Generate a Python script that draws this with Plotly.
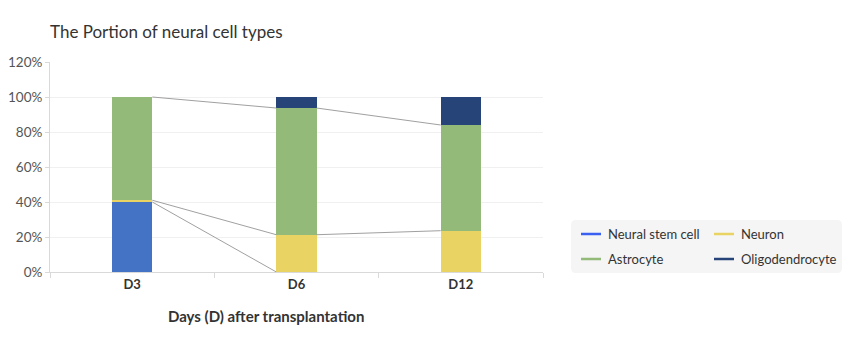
import plotly.graph_objects as go
import numpy as np

categories = ["D3", "D6", "D12"]
series_names = ["Neural stem cell", "Neuron", "Astrocyte", "Oligodendrocyte"]
nsc = [40, 0, 0]
neuron = [1, 21.3, 23.6]
astrocyte = [59, 72.4, 60.4]
oligo = [0, 6.3, 16.0]
y_ticks = [0, 20, 40, 60, 80, 100, 120]
y_tick_labels = ["0%", "20%", "40%", "60%", "80%", "100%", "120%"]

bar_colors = ["#4472c4", "#e9d463", "#93ba79", "#264478"]
legend_colors = ["#3a60f2", "#e9d463", "#93ba79", "#264478"]
FONT = "Lato"
BAR_W = 0.245

values = [nsc, neuron, astrocyte, oligo]

fig = go.Figure()
for name, vals, col in zip(series_names, values, bar_colors):
    fig.add_trace(go.Bar(x=categories, y=vals, name=name, marker=dict(color=col, line=dict(width=0)),
                         width=BAR_W, showlegend=False))

# series lines connecting stacked tops (top series and all-zero segments are not drawn)
arr = np.array(values, dtype=float)
cum = np.cumsum(arr, axis=0)
for s in range(len(series_names) - 1):
    for i in range(len(categories) - 1):
        if arr[s, i] == 0 and arr[s, i + 1] == 0:
            continue
        fig.add_trace(go.Scatter(x=[i + BAR_W / 2, i + 1 - BAR_W / 2], y=[cum[s, i], cum[s, i + 1]],
                                 mode="lines", line=dict(color="#a0a0a0", width=1),
                                 xaxis="x2", showlegend=False, hoverinfo="skip"))

L, R, T, B = 50, 307, 62, 78
W, H = 850, 350
pw, ph = W - L - R, H - T - B

def px(x):
    return (x - L) / pw

def py(y):
    return (H - B - y) / ph

fig.update_layout(
    width=W, height=H, barmode="stack", bargap=0,
    margin=dict(l=L, r=R, t=T, b=B, autoexpand=False),
    paper_bgcolor="white", plot_bgcolor="white",
    font=dict(family=FONT, color="#333"),
    title=dict(text="The Portion of neural cell types", x=L / W, xanchor="left",
               y=1 - 32 / H, yanchor="middle", font=dict(size=17, color="#333", family=FONT)),
    xaxis=dict(type="category", range=[-0.5, 2.5], tickson="boundaries", ticks="outside", ticklen=5,
               tickcolor="#d9d9d9", showline=True, linecolor="#d9d9d9", showgrid=False, automargin=False,
               tickfont=dict(size=13, color="#333", family=FONT, weight="bold")),
    xaxis2=dict(overlaying="x", range=[-0.5, 2.5], visible=False),
    yaxis=dict(range=[0, 120], tickmode="array", tickvals=y_ticks, ticktext=y_tick_labels,
               ticks="outside", ticklen=4, automargin=False,
               tickcolor="#d9d9d9", showline=True, linecolor="#d9d9d9", gridcolor="#f0f0f0",
               tickfont=dict(size=13.5, color="#555", family=FONT), zeroline=False),
    showlegend=False,
)

fig.add_annotation(text="<b>Days (D) after transplantation</b>", xref="paper", yref="paper",
                   x=px(265.5), y=py(316), showarrow=False, xanchor="center", yanchor="middle",
                   font=dict(size=15, color="#333", family=FONT))

# manual legend box
x0, x1, y0, y1, r = px(571), px(842), py(273), py(220), 5
rx, ry = r / pw, r / ph
path = (f"M{x0+rx},{y0} L{x1-rx},{y0} Q{x1},{y0} {x1},{y0+ry} L{x1},{y1-ry} Q{x1},{y1} {x1-rx},{y1} "
        f"L{x0+rx},{y1} Q{x0},{y1} {x0},{y1-ry} L{x0},{y0+ry} Q{x0},{y0} {x0+rx},{y0} Z")
fig.add_shape(type="path", path=path, xref="paper", yref="paper", fillcolor="#f5f5f5",
              line=dict(width=0), layer="below")
col_x = [581, 714]
row_y = [234, 259]
for k, (name, col) in enumerate(zip(series_names, legend_colors)):
    cx = col_x[k % 2]
    ry_ = row_y[k // 2]
    fig.add_shape(type="line", xref="paper", yref="paper", x0=px(cx), x1=px(cx + 20), y0=py(ry_), y1=py(ry_),
                  line=dict(color=col, width=2.5))
    fig.add_annotation(text=name, xref="paper", yref="paper", x=px(cx + 25), y=py(ry_), showarrow=False,
                       xanchor="left", yanchor="middle", font=dict(size=13, color="#333", family=FONT))

fig.write_html("out.html")
